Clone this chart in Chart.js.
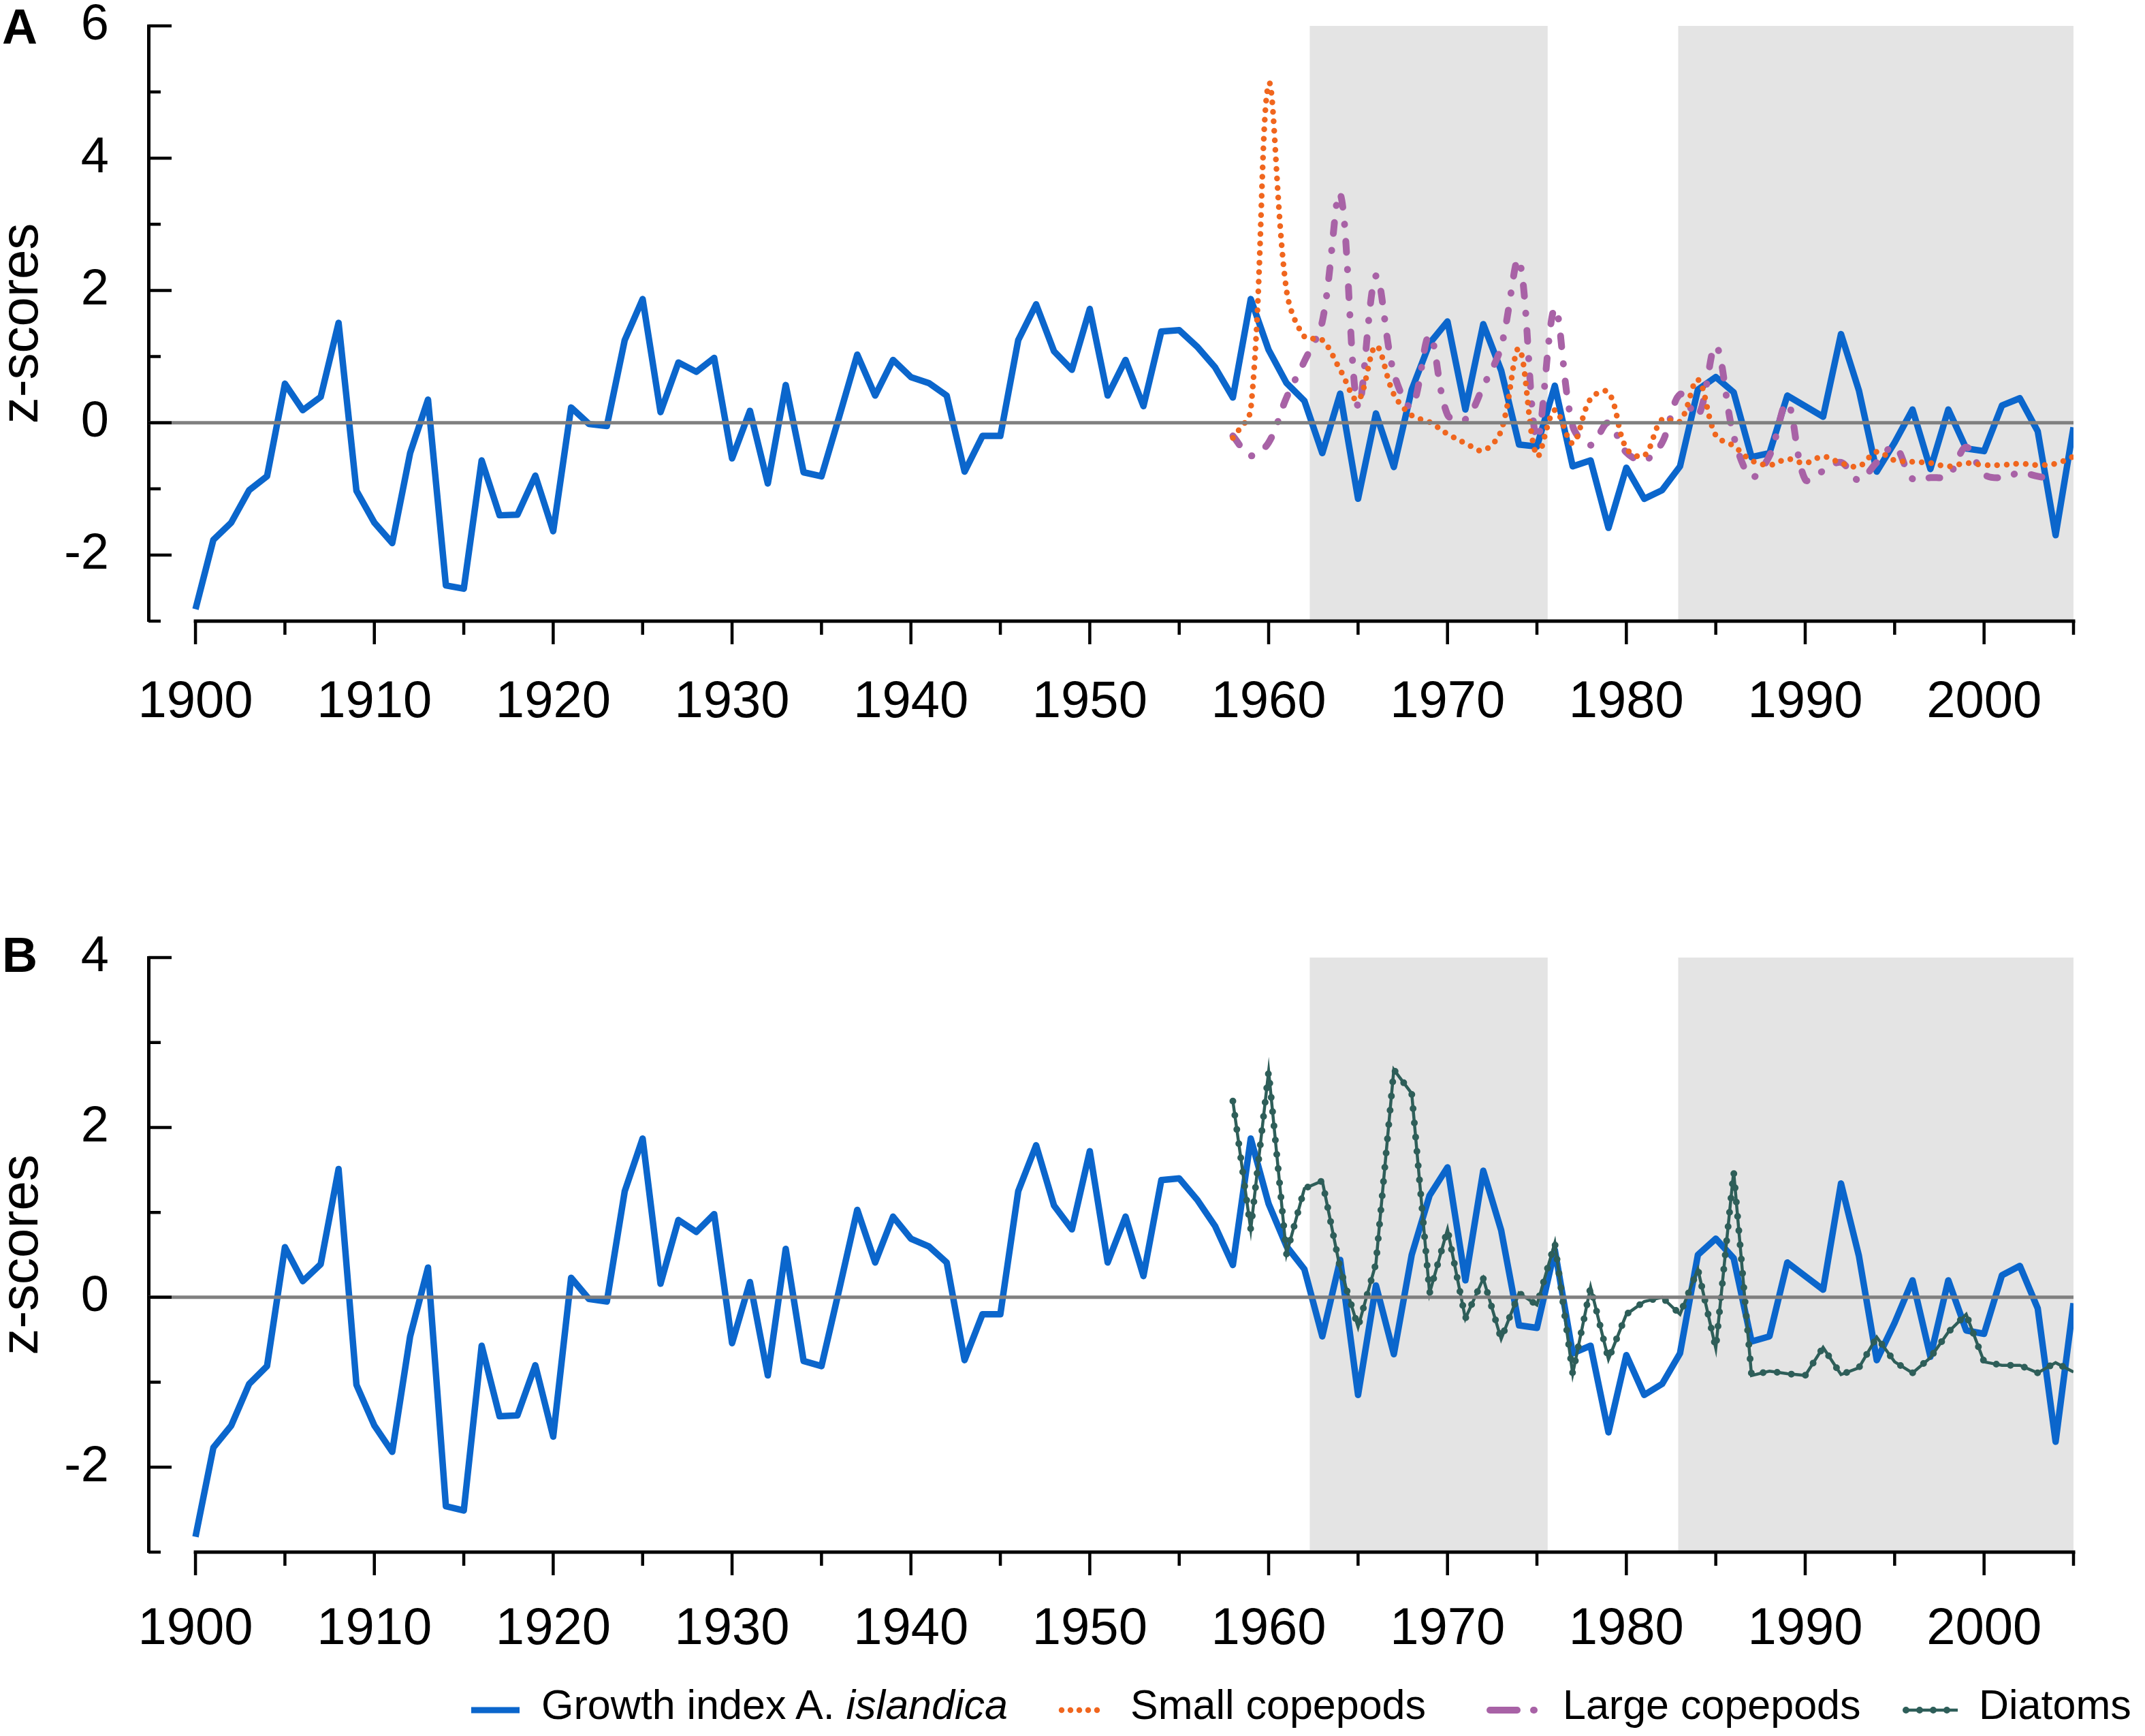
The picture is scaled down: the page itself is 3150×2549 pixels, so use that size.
<!DOCTYPE html>
<html>
<head>
<meta charset="utf-8">
<script src="https://cdn.jsdelivr.net/npm/chart.js@4.4.1/dist/chart.umd.min.js"></script>
<style>
  html, body { margin: 0; padding: 0; background: #fff; }
  body { width: 3150px; height: 2549px; position: relative; overflow: hidden;
         font-family: "Liberation Sans", Arial, sans-serif; color: #000; }
  .panel { position: absolute; left: 0; width: 3150px; height: 1110px; }
  .tag { position: absolute; left: 3px; font-weight: bold; font-size: 72px; line-height: 1; }
  .legend-item { position: absolute; top: 2473px; font-size: 61px; line-height: 1; white-space: nowrap; }
  .swatch { position: absolute; top: 2496px; }
</style>
</head>
<body>
<div class="panel" style="top:0"><canvas id="panelA" width="3150" height="1110"></canvas></div>
<div class="panel" style="top:1340px"><canvas id="panelB" width="3150" height="1110"></canvas></div>
<div class="tag" style="top:3px">A</div>
<div class="tag" style="top:1366px">B</div>

<svg class="swatch" style="left:688px" width="80" height="30">
  <line x1="4" y1="15" x2="75" y2="15" stroke="#0b66cc" stroke-width="9"/>
</svg>
<div class="legend-item" style="left:795px">Growth index A. <i>islandica</i></div>
<svg class="swatch" style="left:1550px" width="80" height="30">
  <line x1="9" y1="15" x2="72" y2="15" stroke="#f0661e" stroke-width="8.5" stroke-dasharray="0 13" stroke-linecap="round"/>
</svg>
<div class="legend-item" style="left:1660px">Small copepods</div>
<svg class="swatch" style="left:2180px" width="90" height="30">
  <line x1="8" y1="15" x2="48" y2="15" stroke="#a862a6" stroke-width="10" stroke-linecap="round"/>
  <line x1="72" y1="15" x2="73" y2="15" stroke="#a862a6" stroke-width="10" stroke-linecap="round"/>
</svg>
<div class="legend-item" style="left:2295px">Large copepods</div>
<svg class="swatch" style="left:2790px" width="90" height="30">
  <line x1="5" y1="15" x2="85" y2="15" stroke="#2e5e59" stroke-width="4.5"/>
  <line x1="9" y1="15" x2="85" y2="15" stroke="#2e5e59" stroke-width="10" stroke-dasharray="0 20" stroke-linecap="round"/>
</svg>
<div class="legend-item" style="left:2906px">Diatoms</div>

<script>
// ---- data ----
const years = [
  1900, 1901, 1902, 1903, 1904, 1905, 1906, 1907, 1908, 1909,
  1910, 1911, 1912, 1913, 1914, 1915, 1916, 1917, 1918, 1919,
  1920, 1921, 1922, 1923, 1924, 1925, 1926, 1927, 1928, 1929,
  1930, 1931, 1932, 1933, 1934, 1935, 1936, 1937, 1938, 1939,
  1940, 1941, 1942, 1943, 1944, 1945, 1946, 1947, 1948, 1949,
  1950, 1951, 1952, 1953, 1954, 1955, 1956, 1957, 1958, 1959,
  1960, 1961, 1962, 1963, 1964, 1965, 1966, 1967, 1968, 1969,
  1970, 1971, 1972, 1973, 1974, 1975, 1976, 1977, 1978, 1979,
  1980, 1981, 1982, 1983, 1984, 1985, 1986, 1987, 1988, 1989,
  1990, 1991, 1992, 1993, 1994, 1995, 1996, 1997, 1998, 1999,
  2000, 2001, 2002, 2003, 2004, 2005
];
const growthIndex = [
  -2.82, -1.77, -1.51, -1.02, -0.81, 0.59, 0.19, 0.39, 1.51, -1.03,
  -1.51, -1.82, -0.46, 0.35, -2.46, -2.51, -0.57, -1.40, -1.39, -0.80,
  -1.64, 0.23, -0.02, -0.05, 1.25, 1.87, 0.16, 0.91, 0.77, 0.98,
  -0.54, 0.18, -0.92, 0.57, -0.75, -0.81, 0.10, 1.03, 0.41, 0.95,
  0.69, 0.60, 0.41, -0.74, -0.20, -0.20, 1.25, 1.79, 1.08, 0.80,
  1.72, 0.41, 0.95, 0.25, 1.38, 1.40, 1.15, 0.84, 0.38, 1.87,
  1.10, 0.60, 0.33, -0.46, 0.44, -1.15, 0.14, -0.67, 0.50, 1.20,
  1.53, 0.20, 1.49, 0.79, -0.33, -0.36, 0.56, -0.66, -0.57, -1.59,
  -0.68, -1.15, -1.02, -0.66, 0.50, 0.69, 0.46, -0.52, -0.46, 0.41,
  0.25, 0.09, 1.34, 0.49, -0.74, -0.30, 0.20, -0.70, 0.20, -0.39,
  -0.43, 0.26, 0.37, -0.13, -1.70, -0.07
];
const planktonYears = [
  1958, 1959, 1960, 1961, 1962, 1963, 1964, 1965, 1966, 1967,
  1968, 1969, 1970, 1971, 1972, 1973, 1974, 1975, 1976, 1977,
  1978, 1979, 1980, 1981, 1982, 1983, 1984, 1985, 1986, 1987,
  1988, 1989, 1990, 1991, 1992, 1993, 1994, 1995, 1996, 1997,
  1998, 1999, 2000, 2001, 2002, 2003, 2004, 2005
];
const smallCopepods = [
  -0.23, 0.20, 5.12, 2.00, 1.30, 1.25, 0.80, 0.34, 1.16, 0.43,
  0.11, 0.01, -0.17, -0.31, -0.42, -0.12, 1.12, -0.50, 0.19, -0.31,
  0.36, 0.46, -0.39, -0.50, 0.05, 0.02, 0.65, -0.19, -0.35, -0.57,
  -0.64, -0.55, -0.61, -0.51, -0.61, -0.66, -0.44, -0.57, -0.59, -0.61,
  -0.66, -0.61, -0.64, -0.64, -0.62, -0.64, -0.62, -0.51
];
const largeCopepods = [
  -0.20, -0.50, -0.30, 0.38, 0.93, 1.53, 3.46, 0.24, 2.22, 0.75,
  0.24, 1.32, 0.12, 0.05, 0.55, 1.15, 2.46, -0.25, 1.73, -0.05,
  -0.34, 0.00, -0.45, -0.57, -0.30, 0.43, 0.10, 1.16, -0.20, -0.82,
  -0.50, 0.30, -0.86, -0.73, -0.60, -0.87, -0.60, -0.36, -0.85, -0.83,
  -0.80, -0.37, -0.78, -0.83, -0.76, -0.81, -0.87, null
];
const diatoms = [
  2.31, 0.80, 2.66, 0.51, 1.28, 1.37, 0.34, -0.35, 0.40, 2.68,
  2.40, 0.05, 0.80, -0.25, 0.22, -0.49, 0.05, -0.09, 0.64, -0.90,
  0.12, -0.73, -0.20, -0.05, 0.00, -0.20, 0.33, -0.60, 1.48, -0.92,
  -0.87, -0.90, -0.92, -0.59, -0.91, -0.83, -0.47, -0.76, -0.89, -0.71,
  -0.41, -0.20, -0.76, -0.80, -0.80, -0.89, -0.77, -0.88
];
const shadedPeriods = [[1962.3, 1975.6], [1982.9, 2005]];

// ---- axes ----
const xMin = 1897.37;
const xMax = 2005;
const xAxisStart = 1900;
const xTickLabels = [1900, 1910, 1920, 1930, 1940, 1950, 1960, 1970, 1980, 1990, 2000];
const xMinorTicks = [1905, 1915, 1925, 1935, 1945, 1955, 1965, 1975, 1985, 1995, 2005];
const yTicksA = [-2, 0, 2, 4, 6];
const yMinorA = [-3, -1, 1, 3, 5];
const yTicksB = [-2, 0, 2, 4];
const yMinorB = [-3, -1, 1, 3];

Chart.defaults.font.family = '"Liberation Sans", Arial, sans-serif';
Chart.defaults.color = '#000';

const toPoints = (xs, ys) => xs.map((x, i) => ({ x: x, y: ys[i] }));

// shaded periods, zero line, x axis line and tick marks
const axisDecor = {
  id: 'axisDecor',
  beforeDatasetsDraw(chart) {
    const { ctx, chartArea: a, scales: { x } } = chart;
    ctx.save();
    ctx.fillStyle = '#e4e4e4';
    shadedPeriods.forEach(([from, to]) => {
      const l = x.getPixelForValue(from);
      const r = x.getPixelForValue(to);
      ctx.fillRect(l, a.top, r - l, a.bottom - a.top);
    });
    ctx.restore();
  },
  afterDatasetsDraw(chart, args, opts) {
    const { ctx, chartArea: a, scales: { x, y } } = chart;
    const zero = y.getPixelForValue(0);
    const xEnd = x.getPixelForValue(xMax);
    ctx.save();
    ctx.strokeStyle = '#808080';
    ctx.lineWidth = 5;
    ctx.beginPath();
    ctx.moveTo(a.left, zero);
    ctx.lineTo(xEnd, zero);
    ctx.stroke();

    ctx.strokeStyle = '#000';
    ctx.lineWidth = 5;
    ctx.beginPath();
    ctx.moveTo(x.getPixelForValue(xAxisStart) - 2.5, a.bottom);
    ctx.lineTo(xEnd + 2.5, a.bottom);
    ctx.stroke();

    ctx.lineWidth = 4.5;
    ctx.beginPath();
    xTickLabels.forEach(v => {
      const px = x.getPixelForValue(v);
      ctx.moveTo(px, a.bottom); ctx.lineTo(px, a.bottom + 34);
    });
    xMinorTicks.forEach(v => {
      const px = x.getPixelForValue(v);
      ctx.moveTo(px, a.bottom); ctx.lineTo(px, a.bottom + 20);
    });
    opts.major.forEach(v => {
      const py = y.getPixelForValue(v);
      ctx.moveTo(a.left, py); ctx.lineTo(a.left + 34, py);
    });
    opts.minor.forEach(v => {
      const py = y.getPixelForValue(v);
      ctx.moveTo(a.left, py); ctx.lineTo(a.left + 18, py);
    });
    ctx.stroke();
    ctx.restore();
  }
};

function makeScales(yMin, yMax, yTicks, xLabelPad, xBoxHeight) {
  return {
    x: {
      type: 'linear',
      min: xMin,
      max: xMax,
      grid: { display: false, drawTicks: false },
      border: { display: false },
      afterBuildTicks: s => { s.ticks = xTickLabels.map(v => ({ value: v })); },
      afterFit: s => { s.height = xBoxHeight; s.paddingLeft = 0; s.paddingRight = 0; },
      ticks: {
        autoSkip: false,
        maxRotation: 0,
        padding: xLabelPad,
        font: { size: 76, lineHeight: 1.2 },
        color: '#000',
        callback: v => String(v)
      }
    },
    y: {
      min: yMin,
      max: yMax,
      grid: { display: false, drawTicks: false },
      border: { display: true, color: '#000', width: 5 },
      afterBuildTicks: s => { s.ticks = yTicks.map(v => ({ value: v })); },
      afterFit: s => { s.width = 218; s.paddingTop = 0; s.paddingBottom = 0; },
      ticks: {
        padding: 58,
        font: { size: 74, lineHeight: 1 },
        color: '#000',
        callback: v => String(v)
      },
      title: {
        display: true,
        text: 'z-scores',
        color: '#000',
        font: { size: 78, lineHeight: 1 },
        padding: { top: -6, bottom: 0 }
      }
    }
  };
}

const growthSet = () => ({
  label: 'Growth index A. islandica',
  data: toPoints(years, growthIndex),
  borderColor: '#0b66cc',
  borderWidth: 9.5,
  borderJoinStyle: 'round',
  pointRadius: 0,
  tension: 0
});

const baseOptions = {
  responsive: false,
  animation: false,
  events: [],
  plugins: { legend: { display: false }, tooltip: { enabled: false } }
};

new Chart(document.getElementById('panelA'), {
  type: 'line',
  data: {
    datasets: [
      {
        label: 'Small copepods',
        data: toPoints(planktonYears, smallCopepods),
        borderColor: '#f0661e',
        borderWidth: 8.5,
        borderDash: [0, 14],
        borderCapStyle: 'round',
        pointRadius: 0,
        tension: 0.35
      },
      {
        label: 'Large copepods',
        data: toPoints(planktonYears, largeCopepods),
        borderColor: '#a862a6',
        borderWidth: 10,
        borderDash: [16, 25, 0.5, 25],
        borderCapStyle: 'round',
        pointRadius: 0,
        tension: 0.35
      },
      growthSet()
    ]
  },
  options: Object.assign({}, baseOptions, {
    layout: { padding: { top: 38, right: 105, bottom: 0, left: 0 } },
    scales: makeScales(-3, 6, yTicksA, 74, 198),
    plugins: Object.assign({}, baseOptions.plugins, { axisDecor: { major: yTicksA, minor: yMinorA } })
  }),
  plugins: [axisDecor]
});

new Chart(document.getElementById('panelB'), {
  type: 'line',
  data: {
    datasets: [
      {
        label: 'Diatoms',
        data: toPoints(planktonYears, diatoms),
        borderColor: '#2e5e59',
        borderWidth: 10,
        borderDash: [0, 21],
        borderCapStyle: 'round',
        pointRadius: 0,
        tension: 0
      },
      {
        label: 'Diatoms line',
        data: toPoints(planktonYears, diatoms),
        borderColor: '#2e5e59',
        borderWidth: 4.5,
        pointRadius: 0,
        tension: 0
      },
      growthSet()
    ]
  },
  options: Object.assign({}, baseOptions, {
    layout: { padding: { top: 66, right: 105, bottom: 0, left: 0 } },
    scales: makeScales(-3, 4, yTicksB, 68, 171),
    plugins: Object.assign({}, baseOptions.plugins, { axisDecor: { major: yTicksB, minor: yMinorB } })
  }),
  plugins: [axisDecor]
});
</script>
</body>
</html>
